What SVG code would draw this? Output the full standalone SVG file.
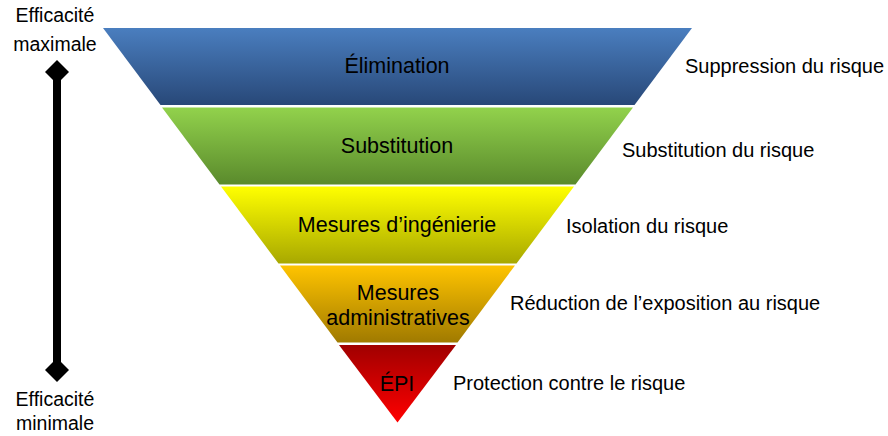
<svg xmlns="http://www.w3.org/2000/svg" width="888" height="436" viewBox="0 0 888 436">
<style>
text{font-family:"Liberation Sans",Arial,sans-serif;fill:#000}
.band{font-size:21.5px;text-anchor:middle}
.lbl{font-size:20px}
.side{font-size:19.5px;text-anchor:middle}
</style>
<defs>
<linearGradient id="gBlue" x1="0" y1="0" x2="0" y2="1"><stop offset="0" stop-color="#4a7ebf"/><stop offset="1" stop-color="#284878"/></linearGradient>
<linearGradient id="gGreen" x1="0" y1="0" x2="0" y2="1"><stop offset="0" stop-color="#92d24c"/><stop offset="1" stop-color="#5a8a2c"/></linearGradient>
<linearGradient id="gYellow" x1="0" y1="0" x2="0" y2="1"><stop offset="0" stop-color="#ffff00"/><stop offset="1" stop-color="#a8a800"/></linearGradient>
<linearGradient id="gOrange" x1="0" y1="0" x2="0" y2="1"><stop offset="0" stop-color="#ffc400"/><stop offset="1" stop-color="#a07a00"/></linearGradient>
<linearGradient id="gRed" x1="0" y1="0" x2="0" y2="1"><stop offset="0" stop-color="#a00000"/><stop offset="1" stop-color="#ff0000"/></linearGradient>
<marker id="dia" markerUnits="userSpaceOnUse" markerWidth="26" markerHeight="26" refX="13" refY="13" orient="auto"><polygon points="13,1 25,13 13,25 1,13" fill="#000"/></marker>
</defs>
<g id="connectors">
<line x1="57" y1="72" x2="57" y2="370" stroke="#000" stroke-width="8" marker-start="url(#dia)" marker-end="url(#dia)"/>
</g>
<g id="elimination">
<polygon points="103,28 692,28 634.5,105 160.5,105" fill="url(#gBlue)"/>
<text class="band" x="397" y="73">Élimination</text>
</g>
<g id="substitution">
<polygon points="162,107.5 633,107.5 575.5,184.5 219.5,184.5" fill="url(#gGreen)"/>
<text class="band" x="397" y="153">Substitution</text>
</g>
<g id="ingenierie">
<polygon points="221,186.5 574,186.5 516.5,263.5 278.5,263.5" fill="url(#gYellow)"/>
<text class="band" x="397" y="232">Mesures d’ingénierie</text>
</g>
<g id="administratives">
<polygon points="280,265.5 515,265.5 457.5,342.5 337.5,342.5" fill="url(#gOrange)"/>
<text class="band" x="398" y="300">Mesures</text>
<text class="band" x="398" y="325">administratives</text>
</g>
<g id="epi">
<polygon points="339,345 456,345 397.5,422.5" fill="url(#gRed)"/>
<text class="band" x="397" y="391">ÉPI</text>
</g>
<g id="labels">
<text class="lbl" x="685" y="73">Suppression du risque</text>
<text class="lbl" x="622" y="157">Substitution du risque</text>
<text class="lbl" x="566" y="233">Isolation du risque</text>
<text class="lbl" x="510" y="310">Réduction de l’exposition au risque</text>
<text class="lbl" x="453" y="390">Protection contre le risque</text>
</g>
<g id="axis-labels">
<text class="side" x="55" y="22">Efficacité</text>
<text class="side" x="55" y="51">maximale</text>
<text class="side" x="55" y="406">Efficacité</text>
<text class="side" x="55" y="430">minimale</text>
</g>
</svg>
